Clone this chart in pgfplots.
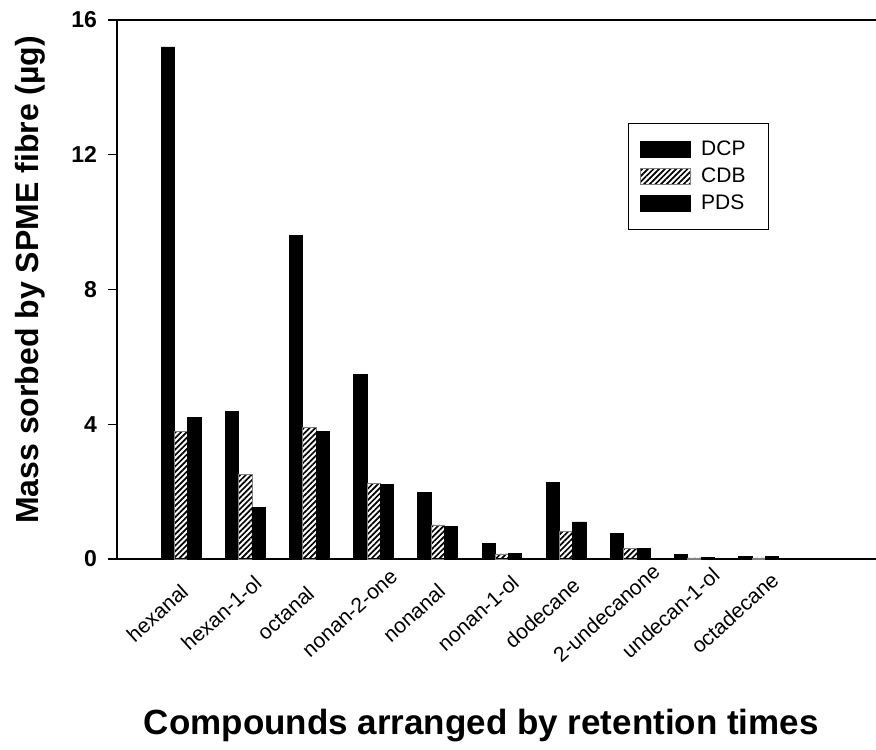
\documentclass[border=0pt]{standalone}
\usepackage{fontspec}
\setmainfont{Liberation Sans}
\usepackage{pgfplots}
\usepackage{pgfplotstable}
\pgfplotsset{compat=1.18}
\usetikzlibrary{patterns.meta}

\pgfplotstableread{
x DCP CDB PDS
0 15.2 3.79 4.2
1 4.37 2.52 1.54
2 9.6 3.9 3.79
3 5.47 2.25 2.22
4 1.98 1.01 0.96
5 0.46 0.15 0.17
6 2.28 0.81 1.10
7 0.75 0.32 0.32
8 0.14 0.03 0.05
9 0.08 0.03 0.08
}\datatable

\pgfplotsset{boxlegend/.style={legend image code/.code={\draw[##1,line width=0.4pt] (0pt,-4pt) rectangle (25pt,4pt);}}}

\begin{document}
\begin{tikzpicture}
\begin{axis}[
  at={(0,0)}, anchor=south west,
  scale only axis, width=379.5pt, height=269.5pt,
  xmin=-1.0, xmax=10.83, ymin=0, ymax=16,
  ybar=0pt, bar width=0.207,
  axis x line*=box, axis y line*=left,
  axis line style={line width=0.75pt, -},
  x axis line style={-}, y axis line style={-},
  ytick={0,4,8,12,16},
  xtick={0,...,9},
  xticklabels={hexanal,hexan-1-ol,octanal,nonan-2-one,nonanal,nonan-1-ol,dodecane,2-undecanone,undecan-1-ol,octadecane},
  xtick style={draw=none},
  tick align=outside,
  major tick length=4.5pt,
  ytick style={line width=0.75pt, black},
  /pgf/number format/assume math mode=true,
  yticklabel style={font=\fontsize{11.5}{13}\selectfont\bfseries, xshift=-2pt},
  xticklabel style={font=\fontsize{10.5}{12}\selectfont, xshift=-12pt, yshift=-22.5pt, rotate=42, anchor=center},
  ylabel={Mass sorbed by SPME fibre (µg)},
  ylabel style={font=\fontsize{16}{18}\selectfont\bfseries, at={(axis description cs:-0.1146,0.518)}, anchor=center},
  xlabel={Compounds arranged by retention times},
  xlabel style={font=\fontsize{17.5}{20}\selectfont\bfseries, at={(axis description cs:0.480,-0.3265)}, anchor=base},
  legend cell align=left,
  legend style={at={(0.673,0.809)}, anchor=north west, draw=black, line width=0.6pt,
    inner xsep=6pt, inner ysep=7.5pt, row sep=2.5pt, column sep=3.5pt,
    font=\fontsize{10.5}{12}\selectfont,
    nodes={inner sep=1.5pt, text height=7pt, text depth=1pt}},
]
\addplot[fill=black, draw=black, boxlegend] table[x=x,y=DCP]{\datatable};
\addplot[pattern={Lines[angle=45,distance=2pt,line width=0.85pt]}, pattern color=black, draw=gray, boxlegend] table[x=x,y=CDB]{\datatable};
\addplot[fill=black, draw=black, boxlegend] table[x=x,y=PDS]{\datatable};
\legend{DCP\hspace*{4pt}, CDB, PDS}
\end{axis}
\pgfresetboundingbox
\path[use as bounding box] (-58.5pt,-95pt) rectangle (379.5pt,279.5pt);
\end{tikzpicture}
\end{document}
